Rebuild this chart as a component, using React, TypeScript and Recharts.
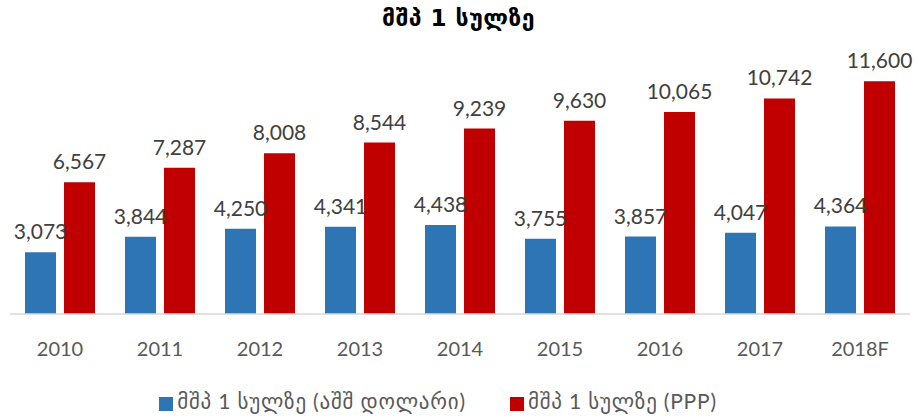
import { BarChart, Bar, XAxis, YAxis, Legend, LabelList } from "recharts"

const years = ["2010", "2011", "2012", "2013", "2014", "2015", "2016", "2017", "2018F"]
const usdValues = [3073, 3844, 4250, 4341, 4438, 3755, 3857, 4047, 4364]
const pppValues = [6567, 7287, 8008, 8544, 9239, 9630, 10065, 10742, 11600]

const usdName = "მშპ 1 სულზე (აშშ დოლარი)"
const pppName = "მშპ 1 სულზე (PPP)"

const data = years.map((y, i) => ({ year: y, usd: usdValues[i], ppp: pppValues[i] }))

const fmt = (v: number) => v.toLocaleString("en-US")

const FONT = "Lato, 'DejaVu Sans', sans-serif"

export default function App() {
  return (
    <div style={{ position: "absolute", left: 0, top: 0, width: 917, height: 416, background: "#fff", fontFamily: FONT }}>
      <div
        style={{
          position: "absolute",
          top: 5,
          left: 0,
          width: 917,
          textAlign: "center",
          fontSize: 23,
          fontWeight: "bold",
          color: "#000",
          letterSpacing: 0.5,
          fontFamily: "'DejaVu Sans', sans-serif",
        }}
      >
        მშპ 1 სულზე
      </div>
      <BarChart
        width={917}
        height={416}
        data={data}
        margin={{ top: 33, right: 7, left: 10, bottom: 2 }}
        barSize={31}
        barGap={8}
      >
        <XAxis
          dataKey="year"
          tickLine={false}
          axisLine={{ stroke: "#d9d9d9", strokeWidth: 1.5 }}
          tick={{ fill: "#595959", fontSize: 20, fontFamily: FONT }}
          tickMargin={22}
          height={74}
        />
        <YAxis hide domain={[0, 14000]} />
        <Legend
          verticalAlign="bottom"
          iconType="square"
          iconSize={14}
          itemSorter={(item: any) => (item.dataKey === "usd" ? 0 : 1)}
          wrapperStyle={{ fontSize: 21, fontFamily: FONT, letterSpacing: 0.8 }}
          formatter={(value: string) => <span style={{ color: "#595959", marginRight: 34 }}>{value}</span>}
        />
        <Bar dataKey="usd" name={usdName} fill="#2E75B6" isAnimationActive={false}>
          <LabelList dataKey="usd" position="top" offset={13} formatter={fmt} fill="#404040" fontSize={21} fontFamily={FONT} />
        </Bar>
        <Bar dataKey="ppp" name={pppName} fill="#C00000" isAnimationActive={false}>
          <LabelList dataKey="ppp" position="top" offset={13} formatter={fmt} fill="#404040" fontSize={21} fontFamily={FONT} />
        </Bar>
      </BarChart>
    </div>
  )
}
